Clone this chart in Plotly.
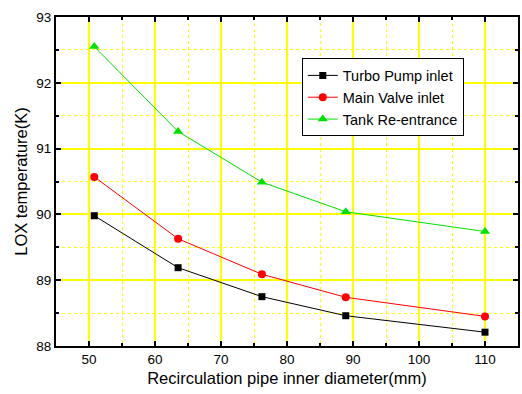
import plotly.graph_objects as go

diameters = [50.8, 63.5, 76.2, 88.9, 110]
turbo_pump = [89.98, 89.19, 88.75, 88.46, 88.21]
main_valve = [90.57, 89.63, 89.09, 88.74, 88.45]
tank_reentrance = [92.55, 91.26, 90.49, 90.04, 89.74]

series = [
    ("Turbo Pump inlet", turbo_pump, "black", "square", 7),
    ("Main Valve inlet", main_valve, "red", "circle", 8),
    ("Tank Re-entrance", tank_reentrance, "#00e000", "triangle-up", 9),
]

fig = go.Figure()
for name, vals, color, sym, size in series:
    fig.add_trace(go.Scatter(
        x=diameters, y=vals, name=name, mode="lines+markers",
        line=dict(color=color, width=1),
        marker=dict(symbol=sym, size=size, color=color),
    ))

font_family = "Liberation Sans, Arial"
axis_common = dict(
    showline=True, linecolor="black", linewidth=2, mirror="ticks",
    ticks="inside", ticklen=5, tickwidth=2, tickcolor="black",
    showgrid=True, gridcolor="#ffff00", gridwidth=1.5, zeroline=False,
    tickfont=dict(family=font_family, size=13.5, color="black"),
)

fig.update_xaxes(
    range=[45, 115], dtick=10, tick0=0,
    minor=dict(dtick=5, ticks="inside", ticklen=3, tickcolor="black",
               showgrid=True, gridcolor="#ffff00", griddash="dot", gridwidth=1),
    title=dict(text="Recirculation pipe inner diameter(mm)",
               font=dict(family=font_family, size=16.5, color="black"),
               standoff=6),
    **axis_common,
)
fig.update_yaxes(
    range=[88, 93], dtick=1, tick0=0,
    minor=dict(dtick=0.5, ticks="inside", ticklen=3, tickcolor="black",
               showgrid=True, gridcolor="#ffff00", griddash="dot", gridwidth=1),
    title=dict(text="LOX temperature(K)",
               font=dict(family=font_family, size=16.5, color="black"),
               standoff=4),
    **axis_common,
)

fig.update_layout(
    width=522, height=394,
    margin=dict(l=56, r=2, t=17, b=48),
    plot_bgcolor="white", paper_bgcolor="white",
    showlegend=True,
    legend=dict(
        x=0.532, y=0.874, xanchor="left", yanchor="top",
        bgcolor="white", bordercolor="black", borderwidth=1,
        font=dict(family=font_family, size=14.5, color="black"),
        tracegroupgap=0, itemwidth=30,
    ),
)

fig.write_html("out.html")
